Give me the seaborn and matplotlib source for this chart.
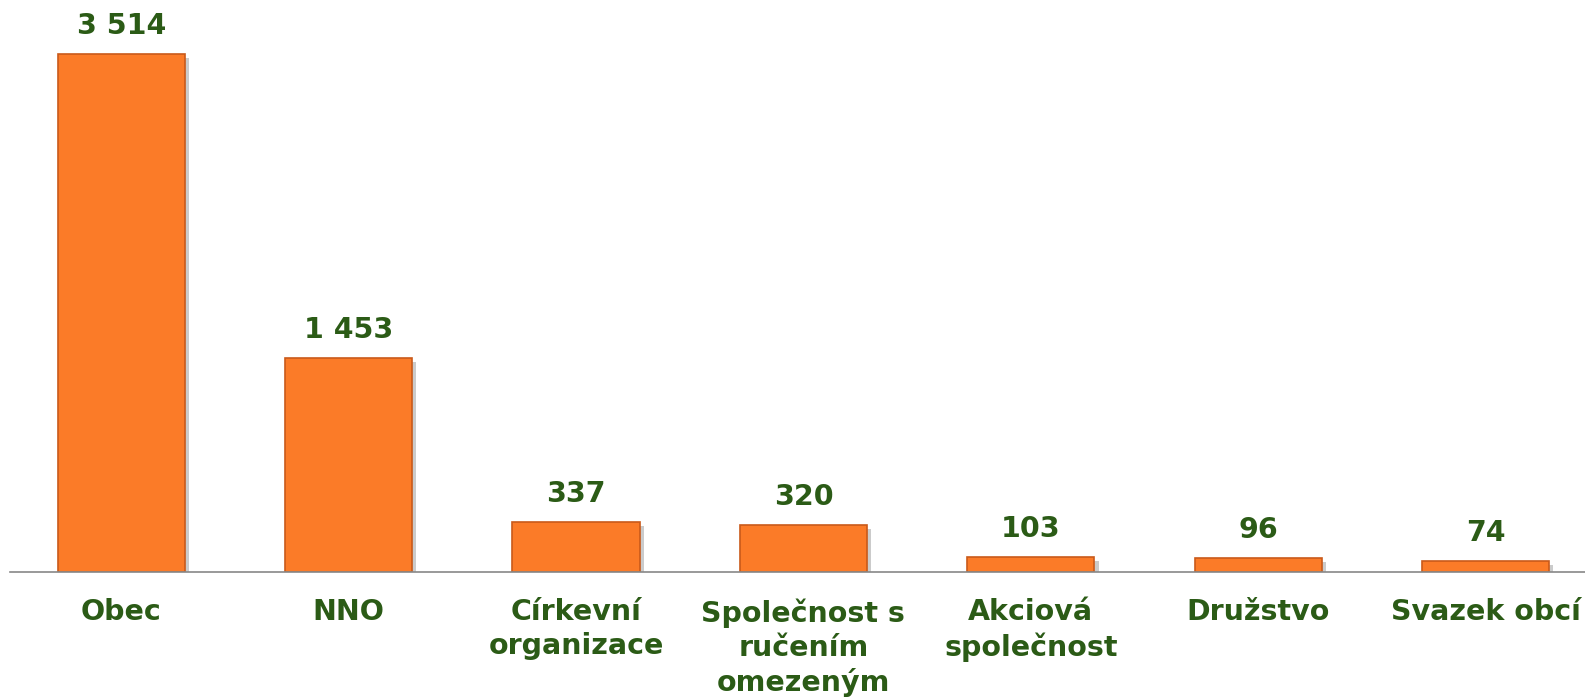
import numpy as np
import pandas as pd
import seaborn as sns
import matplotlib.pyplot as plt
import matplotlib.patheffects as pe

# données
categories = ["Obec", "NNO", "Církevní\norganizace", "Společnost s\nručením\nomezeným",
              "Akciová\nspolečnost", "Družstvo", "Svazek obcí"]
values = [3514, 1453, 337, 320, 103, 96, 74]
value_labels = ["3 514", "1 453", "337", "320", "103", "96", "74"]

green = "#2B5B16"
orange = "#FB7B28"

sns.set_style("white")
plt.rcParams['font.family'] = ['DejaVu Sans']

df = pd.DataFrame({"cat": categories, "val": values})

fig = plt.figure(figsize=(15.85, 6.97), dpi=100)
ax = fig.add_axes([0, 125 / 697, 1, 572 / 697])

sns.barplot(data=df, x="cat", y="val", color=orange, width=0.56, saturation=1, ax=ax)

for p in ax.patches:
    p.set_edgecolor("#C95A1A")
    p.set_linewidth(1.2)
    p.set_path_effects([pe.SimplePatchShadow(offset=(3, -3), shadow_rgbFace="#999999", alpha=0.5),
                        pe.Normal()])

for i, (v, lab) in enumerate(zip(values, value_labels)):
    ax.annotate(lab, (i, v), xytext=(0, 10), textcoords="offset points",
                ha="center", va="bottom", fontsize=20.5, fontweight="bold", color=green)

ax.set_xlim(-0.533, 6.437)
ax.set_ylim(0, 3877)
ax.set_xlabel("")
ax.set_ylabel("")
ax.set_yticks([])
ax.tick_params(axis="x", length=0, pad=19)
for t in ax.get_xticklabels():
    t.set_fontsize(20.5)
    t.set_fontweight("bold")
    t.set_color(green)
    t.set_linespacing(1.27)
    t.set_verticalalignment("top")

for s in ["top", "left", "right"]:
    ax.spines[s].set_visible(False)
ax.spines["bottom"].set_color("#888888")
ax.spines["bottom"].set_linewidth(1.2)
ax.spines["bottom"].set_bounds(-0.49, 6.437)

fig.savefig("out.png", dpi=100)
